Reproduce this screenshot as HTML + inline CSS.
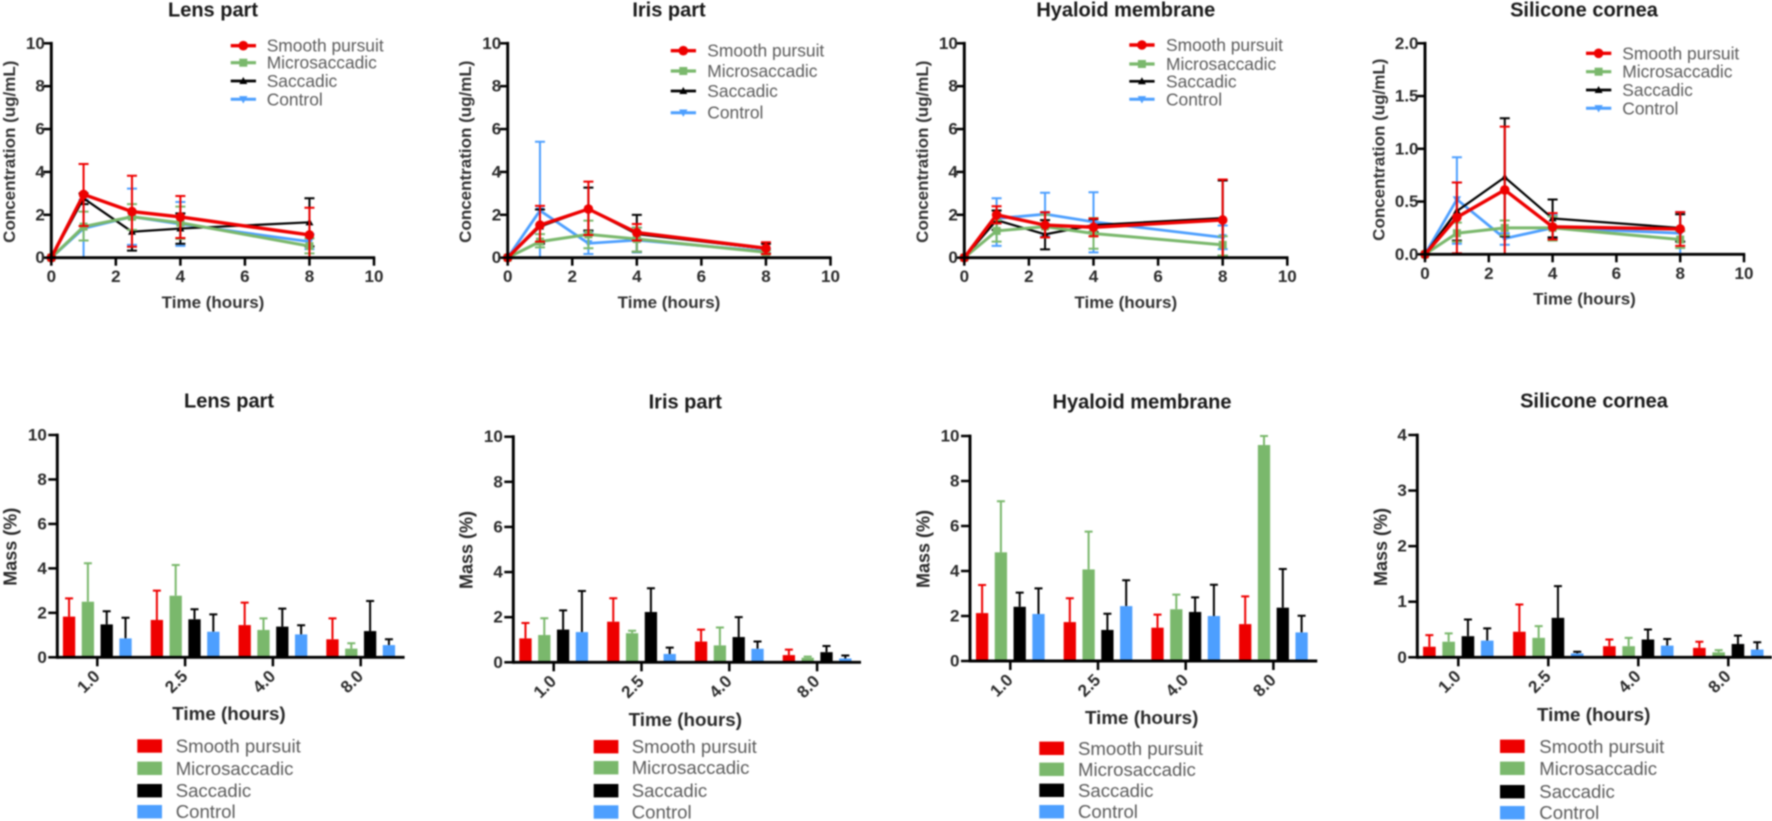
<!DOCTYPE html>
<html lang="en">
<head>
<meta charset="utf-8">
<title>Concentration and mass charts</title>
<style>
html,body{margin:0;padding:0;background:#fff;width:1772px;height:821px;overflow:hidden}
#figure{display:block;filter:blur(0.7px);font-family:"Liberation Sans",Arial,sans-serif}
.title{font-size:20px;font-weight:bold;fill:#1a1a1a;text-anchor:middle;dominant-baseline:central}
.axt{font-size:17px;font-weight:bold;fill:#333;text-anchor:middle;dominant-baseline:central}
.axb{font-size:18.8px;font-weight:bold;fill:#2a2a2a;text-anchor:middle;dominant-baseline:central}
.axm{font-size:18px;font-weight:bold;fill:#2a2a2a;text-anchor:middle;dominant-baseline:central}
.leg{font-size:17.4px;fill:#5c5c5c;dominant-baseline:central}
.legb{font-size:18.6px;fill:#5c5c5c;dominant-baseline:central}
.tick{font-size:17px;font-weight:bold;fill:#2b2b2b}
</style>
</head>
<body>
<svg id="figure" xmlns="http://www.w3.org/2000/svg" width="1772" height="821" viewBox="0 0 1772 821">
<rect width="1772" height="821" fill="#fff"/>

<g id="marks"></g>

<text class="title" x="213" y="10.5">Lens part</text>
<text class="title" x="669" y="10.5">Iris part</text>
<text class="title" x="1125.8" y="10.5">Hyaloid membrane</text>
<text class="title" x="1584" y="10.5">Silicone cornea</text>
<text class="title" x="229" y="401.5">Lens part</text>
<text class="title" x="685.3" y="402.5">Iris part</text>
<text class="title" x="1142" y="402.5">Hyaloid membrane</text>
<text class="title" x="1594" y="401.5">Silicone cornea</text>

<text class="axt" x="213" y="302.3">Time (hours)</text>
<text class="axt" x="669" y="302.3">Time (hours)</text>
<text class="axt" x="1125.8" y="302.3">Time (hours)</text>
<text class="axt" x="1584.5" y="299">Time (hours)</text>
<text class="axt" transform="translate(9.5 151.7) rotate(-90)">Concentration (ug/mL)</text>
<text class="axt" transform="translate(465.7 151.7) rotate(-90)">Concentration (ug/mL)</text>
<text class="axt" transform="translate(922.3 151.7) rotate(-90)">Concentration (ug/mL)</text>
<text class="axt" transform="translate(1379 149.7) rotate(-90)">Concentration (ug/mL)</text>

<text class="axb" x="229" y="713.3">Time (hours)</text>
<text class="axb" x="685.3" y="719.3">Time (hours)</text>
<text class="axb" x="1141.7" y="717.7">Time (hours)</text>
<text class="axb" x="1593.7" y="714.3">Time (hours)</text>
<text class="axm" transform="translate(10.7 546.7) rotate(-90)">Mass (%)</text>
<text class="axm" transform="translate(466.7 550) rotate(-90)">Mass (%)</text>
<text class="axm" transform="translate(923.3 549) rotate(-90)">Mass (%)</text>
<text class="axm" transform="translate(1381 547) rotate(-90)">Mass (%)</text>

<g>
<text class="leg" x="266.7" y="45.7">Smooth pursuit</text>
<text class="leg" x="266.7" y="62.7">Microsaccadic</text>
<text class="leg" x="266.7" y="81">Saccadic</text>
<text class="leg" x="266.7" y="99.3">Control</text>
</g>
<g>
<text class="leg" x="707.3" y="50.7">Smooth pursuit</text>
<text class="leg" x="707.3" y="71">Microsaccadic</text>
<text class="leg" x="707.3" y="91">Saccadic</text>
<text class="leg" x="707.3" y="112.7">Control</text>
</g>
<g>
<text class="leg" x="1166" y="45">Smooth pursuit</text>
<text class="leg" x="1166" y="64">Microsaccadic</text>
<text class="leg" x="1166" y="81.3">Saccadic</text>
<text class="leg" x="1166" y="99.3">Control</text>
</g>
<g>
<text class="leg" x="1622.3" y="53.3">Smooth pursuit</text>
<text class="leg" x="1622.3" y="71.7">Microsaccadic</text>
<text class="leg" x="1622.3" y="90">Saccadic</text>
<text class="leg" x="1622.3" y="108.3">Control</text>
</g>
<g>
<text class="legb" x="175.7" y="746">Smooth pursuit</text>
<text class="legb" x="175.7" y="768.3">Microsaccadic</text>
<text class="legb" x="175.7" y="790.7">Saccadic</text>
<text class="legb" x="175.7" y="811.7">Control</text>
</g>
<g>
<text class="legb" x="631.7" y="746.7">Smooth pursuit</text>
<text class="legb" x="631.7" y="767.7">Microsaccadic</text>
<text class="legb" x="631.7" y="790.7">Saccadic</text>
<text class="legb" x="631.7" y="812">Control</text>
</g>
<g>
<text class="legb" x="1078" y="748.3">Smooth pursuit</text>
<text class="legb" x="1078" y="769.3">Microsaccadic</text>
<text class="legb" x="1078" y="790.3">Saccadic</text>
<text class="legb" x="1078" y="811.7">Control</text>
</g>
<g>
<text class="legb" x="1539.3" y="746.3">Smooth pursuit</text>
<text class="legb" x="1539.3" y="768.3">Microsaccadic</text>
<text class="legb" x="1539.3" y="791.7">Saccadic</text>
<text class="legb" x="1539.3" y="812.7">Control</text>
</g>
</svg>

<script>
/* ---------- shared categories and tick labels ---------- */
const lineTimes = [0, 1, 2.5, 4, 8];
const xTickValues = [0, 2, 4, 6, 8, 10];
const yTicksTen = [0, 2, 4, 6, 8, 10];
const yTicksTwo = ["0.0", "0.5", "1.0", "1.5", "2.0"];
const yTicksFour = [0, 1, 2, 3, 4];
const barCategories = ["1.0", "2.5", "4.0", "8.0"];

/* ---------- line charts: mean, upper error, lower error (ug/mL) ---------- */
const lensSmooth = [0, 2.95, 2.15, 1.9, 1.06];
const lensSmoothHi = [0, 4.37, 3.82, 2.88, 2.33];
const lensSmoothLo = [0, 1.48, 0.51, 0.92, 0];
const lensMicro = [0, 1.45, 1.91, 1.63, 0.54];
const lensMicroHi = [0, 2.15, 2.5, 2.38, 0.9];
const lensMicroLo = [0, 0.8, 1.3, 0.88, 0.2];
const lensSacc = [0, 2.77, 1.21, 1.36, 1.65];
const lensSaccHi = [0, 3.0, 1.9, 2.07, 2.77];
const lensSaccLo = [0, 2.5, 0.33, 0.65, 0.53];
const lensCtrl = [0, 1.37, 1.91, 1.57, 0.75];
const lensCtrlHi = [0, 2.7, 3.22, 2.6, 1.1];
const lensCtrlLo = [0, 0, 0.6, 0.55, 0.4];

const irisSmooth = [0, 1.52, 2.27, 1.17, 0.44];
const irisSmoothHi = [0, 2.42, 3.55, 1.57, 0.72];
const irisSmoothLo = [0, 0.75, 1.06, 0.8, 0.17];
const irisMicro = [0, 0.75, 1.09, 0.87, 0.25];
const irisMicroHi = [0, 1.1, 1.73, 1.4, 0.35];
const irisMicroLo = [0, 0.48, 0.44, 0.28, 0.15];
const irisSacc = [0, 1.45, 2.27, 1.1, 0.42];
const irisSaccHi = [0, 2.25, 3.27, 2.0, 0.65];
const irisSaccLo = [0, 0.65, 1.27, 0.28, 0.2];
const irisCtrl = [0, 2.2, 0.67, 0.82, 0.3];
const irisCtrlHi = [0, 5.41, 1.2, 1.4, 0.42];
const irisCtrlLo = [0, 0, 0.17, 0.25, 0.18];

const hyalSmooth = [0, 2.0, 1.52, 1.42, 1.76];
const hyalSmoothHi = [0, 2.4, 2.12, 1.83, 3.65];
const hyalSmoothLo = [0, 1.6, 0.95, 1.0, 0];
const hyalMicro = [0, 1.25, 1.45, 1.13, 0.6];
const hyalMicroHi = [0, 1.75, 2.0, 1.85, 1.0];
const hyalMicroLo = [0, 0.75, 0.95, 0.42, 0.1];
const hyalSacc = [0, 1.75, 1.09, 1.52, 1.85];
const hyalSaccHi = [0, 2.2, 1.75, 1.8, 3.6];
const hyalSaccLo = [0, 1.3, 0.39, 1.2, 0.1];
const hyalCtrl = [0, 1.83, 2.03, 1.67, 0.95];
const hyalCtrlHi = [0, 2.77, 3.03, 3.05, 1.5];
const hyalCtrlLo = [0, 0.55, 1.0, 0.25, 0.4];

const siliSmooth = [0, 0.35, 0.61, 0.26, 0.24];
const siliSmoothHi = [0, 0.68, 1.21, 0.39, 0.4];
const siliSmoothLo = [0, 0.01, 0, 0.14, 0.08];
const siliMicro = [0, 0.2, 0.25, 0.25, 0.14];
const siliMicroHi = [0, 0.3, 0.32, 0.36, 0.22];
const siliMicroLo = [0, 0.12, 0.18, 0.13, 0.06];
const siliSacc = [0, 0.41, 0.73, 0.34, 0.25];
const siliSaccHi = [0, 0.68, 1.29, 0.52, 0.38];
const siliSaccLo = [0, 0.13, 0.17, 0.16, 0.12];
const siliCtrl = [0, 0.52, 0.15, 0.25, 0.2];
const siliCtrlHi = [0, 0.92, 0.2, 0.37, 0.4];
const siliCtrlLo = [0, 0.1, 0.09, 0.15, 0];

/* ---------- bar charts: mean and upper error (mass %) ---------- */
const massLensSmooth = [1.83, 1.68, 1.45, 0.81];
const massLensSmoothHi = [2.65, 3.0, 2.46, 1.75];
const massLensMicro = [2.5, 2.77, 1.23, 0.39];
const massLensMicroHi = [4.23, 4.15, 1.75, 0.63];
const massLensSacc = [1.48, 1.71, 1.38, 1.18];
const massLensSaccHi = [2.07, 2.16, 2.19, 2.53];
const massLensCtrl = [0.85, 1.15, 1.03, 0.55];
const massLensCtrlHi = [1.78, 1.93, 1.44, 0.81];

const massIrisSmooth = [1.06, 1.8, 0.92, 0.32];
const massIrisSmoothHi = [1.74, 2.84, 1.45, 0.56];
const massIrisMicro = [1.21, 1.29, 0.75, 0.2];
const massIrisMicroHi = [1.95, 1.4, 1.54, 0.25];
const massIrisSacc = [1.45, 2.23, 1.12, 0.45];
const massIrisSaccHi = [2.3, 3.28, 2.0, 0.72];
const massIrisCtrl = [1.34, 0.37, 0.6, 0.17];
const massIrisCtrlHi = [3.16, 0.65, 0.92, 0.3];

const massHyalSmooth = [2.13, 1.73, 1.48, 1.64];
const massHyalSmoothHi = [3.38, 2.79, 2.06, 2.87];
const massHyalMicro = [4.83, 4.07, 2.3, 9.6];
const massHyalMicroHi = [7.1, 5.75, 2.95, 10];
const massHyalSacc = [2.41, 1.38, 2.18, 2.37];
const massHyalSaccHi = [3.04, 2.1, 2.83, 4.09];
const massHyalCtrl = [2.09, 2.44, 2.0, 1.27];
const massHyalCtrlHi = [3.23, 3.59, 3.39, 2.01];

const massSiliSmooth = [0.19, 0.46, 0.2, 0.17];
const massSiliSmoothHi = [0.4, 0.95, 0.32, 0.28];
const massSiliMicro = [0.28, 0.35, 0.2, 0.09];
const massSiliMicroHi = [0.43, 0.56, 0.35, 0.13];
const massSiliSacc = [0.38, 0.71, 0.32, 0.24];
const massSiliSaccHi = [0.68, 1.28, 0.5, 0.39];
const massSiliCtrl = [0.3, 0.07, 0.21, 0.14];
const massSiliCtrlHi = [0.52, 0.1, 0.33, 0.27];

/* ---------- styling ---------- */
const RED = "#ee0000", GREEN = "#7ab86c", BLACK = "#000000", BLUE = "#4d9fff";
const NS = "http://www.w3.org/2000/svg";
const root = document.getElementById("marks");

function mk(tag, attrs, parent, text) {
  const e = document.createElementNS(NS, tag);
  for (const k in attrs) e.setAttribute(k, attrs[k]);
  if (text !== undefined) e.textContent = text;
  parent.appendChild(e);
  return e;
}

const seriesStyles = {
  control: { color: BLUE, width: 2.8, legendWidth: 3, errColor: BLACK, marker: "down", slug: "control" },
  saccadic: { color: BLACK, width: 2.2, legendWidth: 2.7, errColor: BLACK, marker: "up", slug: "saccadic" },
  micro: { color: GREEN, width: 3, legendWidth: 3.2, errColor: GREEN, marker: "square", slug: "microsaccadic" },
  smooth: { color: RED, width: 3.4, legendWidth: 3.4, errColor: RED, marker: "circle", slug: "smooth-pursuit" }
};

function drawMarker(g, kind, cx, cy, color) {
  let m;
  if (kind === "circle") {
    m = mk("circle", { cx: cx, cy: cy, r: 4.8, fill: color }, g);
  } else if (kind === "square") {
    m = mk("rect", { x: cx - 4, y: cy - 4, width: 8, height: 8, fill: color }, g);
  } else if (kind === "up") {
    m = mk("polygon", { points: (cx - 4) + "," + (cy + 3) + " " + (cx + 4) + "," + (cy + 3) + " " + cx + "," + (cy - 4), fill: color }, g);
  } else {
    m = mk("polygon", { points: (cx - 4.2) + "," + (cy - 3.2) + " " + (cx + 4.2) + "," + (cy - 3.2) + " " + cx + "," + (cy + 4.2), fill: color }, g);
  }
  
  
}

function drawYAxis(g, axisX, yScale, tickValues, tickLabels, tickLen, gap) {
  const axis = mk("line", { x1: axisX, x2: axisX, y1: yScale(tickValues[tickValues.length - 1]) - 1.4, y2: yScale(0) + 1.4, stroke: "#000", "stroke-width": 2.9 }, g);
  
  
  tickValues.forEach(function (v, i) {
    const y = yScale(v);
    const t = mk("line", { x1: axisX - tickLen, x2: axisX, y1: y, y2: y, stroke: "#000", "stroke-width": 2.5 }, g);
    
    
    const l = mk("text", { x: axisX - gap, y: y, "text-anchor": "end", "dominant-baseline": "central", "class": "tick" }, g, String(tickLabels[i]));
    
    
  });
}

/* ---------- line chart renderer ---------- */
function lineChart(cfg) {
  const g = mk("g", {}, root);
  
  
  const xs = function (v) { return cfg.x0 + v * (cfg.x10 - cfg.x0) / 10; };
  const ys = function (v) { return cfg.y0 - v / cfg.yMax * (cfg.y0 - cfg.yTop); };

  cfg.series.forEach(function (s) {
    const st = seriesStyles[s.key];
    const sg = mk("g", {}, g);
    
    
    lineTimes.forEach(function (t, i) {
      const x = xs(t);
      const eb = mk("path", {
        d: "M" + x + " " + ys(s.hi[i]) + "V" + ys(s.lo[i]) +
           "M" + (x - 5) + " " + ys(s.hi[i]) + "H" + (x + 5) +
           "M" + (x - 5) + " " + ys(s.lo[i]) + "H" + (x + 5),
        stroke: st.color, "stroke-width": 2, fill: "none"
      }, sg);
      
      
    });
    const pts = lineTimes.map(function (t, i) { return xs(t) + "," + ys(s.mean[i]); }).join(" ");
    const pl = mk("polyline", { points: pts, fill: "none", stroke: st.color, "stroke-width": st.width, "stroke-linejoin": "miter" }, sg);
    
    
    lineTimes.forEach(function (t, i) {
      drawMarker(sg, st.marker, xs(t), ys(s.mean[i]), st.color);
    });
  });

  const xAxis = mk("line", { x1: xs(0), x2: xs(10) + 1.2, y1: cfg.y0, y2: cfg.y0, stroke: "#000", "stroke-width": 2.9 }, g);
  
  
  xTickValues.forEach(function (v) {
    const x = xs(v);
    const t = mk("line", { x1: x, x2: x, y1: cfg.y0, y2: cfg.y0 + 8, stroke: "#000", "stroke-width": 2.5 }, g);
    
    
    const l = mk("text", { x: x, y: cfg.y0 + 19, "text-anchor": "middle", "dominant-baseline": "central", "class": "tick" }, g, String(v));
    
    
  });
  drawYAxis(g, cfg.x0, ys, cfg.yTicks.map(Number), cfg.yTicks, 8, 6.5);

  ["smooth", "micro", "saccadic", "control"].forEach(function (key, i) {
    const st = seriesStyles[key];
    const y = cfg.legendRows[i];
    const ln = mk("line", { x1: cfg.legendX, x2: cfg.legendX + 25.3, y1: y, y2: y, stroke: st.color, "stroke-width": st.legendWidth }, g);
    
    
    drawMarker(g, st.marker, cfg.legendX + 12.6, y, st.color);
  });
}

/* ---------- bar chart renderer ---------- */
function barChart(cfg) {
  const g = mk("g", {}, root);
  
  
  const ys = function (v) { return cfg.y0 - v / cfg.yMax * (cfg.y0 - cfg.yTop); };
  const xc = function (i) { return cfg.firstTick + i * cfg.step; };
  const off = cfg.step * 0.2143;
  const bw = cfg.step * 0.14;

  cfg.series.forEach(function (s, si) {
    const st = seriesStyles[s.key];
    barCategories.forEach(function (c, i) {
      const cx = xc(i) + (si - 1.5) * off;
      const eb = mk("path", {
        d: "M" + cx + " " + ys(s.mean[i]) + "V" + ys(s.hi[i]) + "M" + (cx - 4) + " " + ys(s.hi[i]) + "H" + (cx + 4),
        stroke: st.errColor, "stroke-width": 2, fill: "none"
      }, g);
      
      
      const b = mk("rect", { x: cx - bw / 2, y: ys(s.mean[i]), width: bw, height: cfg.y0 - ys(s.mean[i]), fill: st.color }, g);
      
      
    });
  });

  const xAxis = mk("line", { x1: cfg.axisX, x2: xc(3) + cfg.step / 2, y1: cfg.y0, y2: cfg.y0, stroke: "#000", "stroke-width": 2.9 }, g);
  
  
  barCategories.forEach(function (c, i) {
    const x = xc(i);
    const t = mk("line", { x1: x, x2: x, y1: cfg.y0, y2: cfg.y0 + 9, stroke: "#000", "stroke-width": 2.5 }, g);
    
    
    const ax = x + 3.5, ay = cfg.y0 + 20;
    const l = mk("text", { x: ax, y: ay, "text-anchor": "end", transform: "rotate(-45 " + ax + " " + ay + ")", "class": "tick" }, g, c);
    
    
  });
  drawYAxis(g, cfg.axisX, ys, cfg.yTicks, cfg.yTicks, 9, 10.5);

  ["smooth", "micro", "saccadic", "control"].forEach(function (key, i) {
    const st = seriesStyles[key];
    const sw = mk("rect", { x: cfg.legendX, y: cfg.legendRows[i] - 6.7, width: 24.7, height: 13.4, fill: st.color }, g);
    
    
  });
}

/* ---------- panels ---------- */
lineChart({
  name: "lens-concentration-chart", x0: 51.3, x10: 374, y0: 257.7, yTop: 43.3, yMax: 10,
  yTicks: yTicksTen, legendX: 230.7, legendRows: [45.7, 62.7, 81, 99.3],
  series: [
    { key: "control", mean: lensCtrl, hi: lensCtrlHi, lo: lensCtrlLo },
    { key: "saccadic", mean: lensSacc, hi: lensSaccHi, lo: lensSaccLo },
    { key: "micro", mean: lensMicro, hi: lensMicroHi, lo: lensMicroLo },
    { key: "smooth", mean: lensSmooth, hi: lensSmoothHi, lo: lensSmoothLo }
  ]
});
lineChart({
  name: "iris-concentration-chart", x0: 507.7, x10: 830.5, y0: 257.7, yTop: 43.3, yMax: 10,
  yTicks: yTicksTen, legendX: 670.7, legendRows: [50.7, 71, 91, 112.7],
  series: [
    { key: "control", mean: irisCtrl, hi: irisCtrlHi, lo: irisCtrlLo },
    { key: "saccadic", mean: irisSacc, hi: irisSaccHi, lo: irisSaccLo },
    { key: "micro", mean: irisMicro, hi: irisMicroHi, lo: irisMicroLo },
    { key: "smooth", mean: irisSmooth, hi: irisSmoothHi, lo: irisSmoothLo }
  ]
});
lineChart({
  name: "hyaloid-concentration-chart", x0: 964.3, x10: 1287.3, y0: 257.7, yTop: 43.3, yMax: 10,
  yTicks: yTicksTen, legendX: 1129.3, legendRows: [45, 64, 81.3, 99.3],
  series: [
    { key: "control", mean: hyalCtrl, hi: hyalCtrlHi, lo: hyalCtrlLo },
    { key: "saccadic", mean: hyalSacc, hi: hyalSaccHi, lo: hyalSaccLo },
    { key: "micro", mean: hyalMicro, hi: hyalMicroHi, lo: hyalMicroLo },
    { key: "smooth", mean: hyalSmooth, hi: hyalSmoothHi, lo: hyalSmoothLo }
  ]
});
lineChart({
  name: "silicone-concentration-chart", x0: 1425, x10: 1744, y0: 254.3, yTop: 43.3, yMax: 2,
  yTicks: yTicksTwo, legendX: 1586, legendRows: [53.3, 71.7, 90, 108.3],
  series: [
    { key: "control", mean: siliCtrl, hi: siliCtrlHi, lo: siliCtrlLo },
    { key: "saccadic", mean: siliSacc, hi: siliSaccHi, lo: siliSaccLo },
    { key: "micro", mean: siliMicro, hi: siliMicroHi, lo: siliMicroLo },
    { key: "smooth", mean: siliSmooth, hi: siliSmoothHi, lo: siliSmoothLo }
  ]
});

barChart({
  name: "lens-mass-chart", axisX: 57.3, firstTick: 97.3, step: 87.8, y0: 657.3, yTop: 435, yMax: 10,
  yTicks: yTicksTen, legendX: 137.3, legendRows: [746, 768.3, 790.7, 811.7],
  series: [
    { key: "smooth", mean: massLensSmooth, hi: massLensSmoothHi },
    { key: "micro", mean: massLensMicro, hi: massLensMicroHi },
    { key: "saccadic", mean: massLensSacc, hi: massLensSaccHi },
    { key: "control", mean: massLensCtrl, hi: massLensCtrlHi }
  ]
});
barChart({
  name: "iris-mass-chart", axisX: 513.3, firstTick: 553.7, step: 87.8, y0: 662.3, yTop: 436.7, yMax: 10,
  yTicks: yTicksTen, legendX: 593.7, legendRows: [746.7, 767.7, 790.7, 812],
  series: [
    { key: "smooth", mean: massIrisSmooth, hi: massIrisSmoothHi },
    { key: "micro", mean: massIrisMicro, hi: massIrisMicroHi },
    { key: "saccadic", mean: massIrisSacc, hi: massIrisSaccHi },
    { key: "control", mean: massIrisCtrl, hi: massIrisCtrlHi }
  ]
});
barChart({
  name: "hyaloid-mass-chart", axisX: 970, firstTick: 1010.3, step: 87.7, y0: 661, yTop: 436, yMax: 10,
  yTicks: yTicksTen, legendX: 1039.3, legendRows: [748.3, 769.3, 790.3, 811.7],
  series: [
    { key: "smooth", mean: massHyalSmooth, hi: massHyalSmoothHi },
    { key: "micro", mean: massHyalMicro, hi: massHyalMicroHi },
    { key: "saccadic", mean: massHyalSacc, hi: massHyalSaccHi },
    { key: "control", mean: massHyalCtrl, hi: massHyalCtrlHi }
  ]
});
barChart({
  name: "silicone-mass-chart", axisX: 1417.3, firstTick: 1458.3, step: 90, y0: 657.3, yTop: 435, yMax: 4,
  yTicks: yTicksFour, legendX: 1500, legendRows: [746.3, 768.3, 791.7, 812.7],
  series: [
    { key: "smooth", mean: massSiliSmooth, hi: massSiliSmoothHi },
    { key: "micro", mean: massSiliMicro, hi: massSiliMicroHi },
    { key: "saccadic", mean: massSiliSacc, hi: massSiliSaccHi },
    { key: "control", mean: massSiliCtrl, hi: massSiliCtrlHi }
  ]
});
</script>
</body>
</html>
